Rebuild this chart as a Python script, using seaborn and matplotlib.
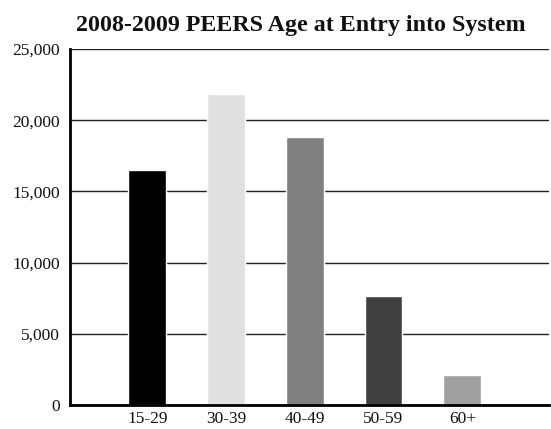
import matplotlib.pyplot as plt
import seaborn as sns
import pandas as pd
from matplotlib.ticker import FuncFormatter

age_groups = ['15-29', '30-39', '40-49', '50-59', '60+']
members = [16500, 21850, 18800, 7650, 2100]
bar_colors = ['#000000', '#e0e0e0', '#808080', '#404040', '#a0a0a0']

df = pd.DataFrame({'age': age_groups, 'count': members})

sns.set_style('white')
plt.rcParams['font.family'] = ['Liberation Serif', 'DejaVu Serif']

fig = plt.figure(figsize=(5.51, 4.29), dpi=100)
ax = fig.add_axes([70/551, 1 - 405/429, 479/551, 356/429])

sns.barplot(data=df, x='age', y='count', hue='age', palette=bar_colors,
            width=0.48, legend=False, saturation=1, ax=ax)

ax.set_ylim(0, 25000)
ax.set_xlim(-0.98, 5.1)
ax.set_yticks(range(0, 25001, 5000))
ax.yaxis.set_major_formatter(FuncFormatter(lambda v, p: f'{int(v):,}'))
ax.grid(axis='y', color='#222222', linewidth=1.0)
ax.set_axisbelow(True)
ax.tick_params(axis='both', length=0, labelsize=12.5, colors='#111111')
ax.tick_params(axis='y', pad=7)
ax.tick_params(axis='x', pad=4)
ax.set_xlabel('')
ax.set_ylabel('')

for side in ['top', 'right']:
    ax.spines[side].set_visible(False)
for side in ['left', 'bottom']:
    ax.spines[side].set_color('black')
    ax.spines[side].set_linewidth(2)

fig.suptitle('2008-2009 PEERS Age at Entry into System', x=301/551, y=1 - 25/429,
             va='center', fontsize=17.3, fontweight='bold', color='#111111')

fig.savefig('out.png', dpi=100)
